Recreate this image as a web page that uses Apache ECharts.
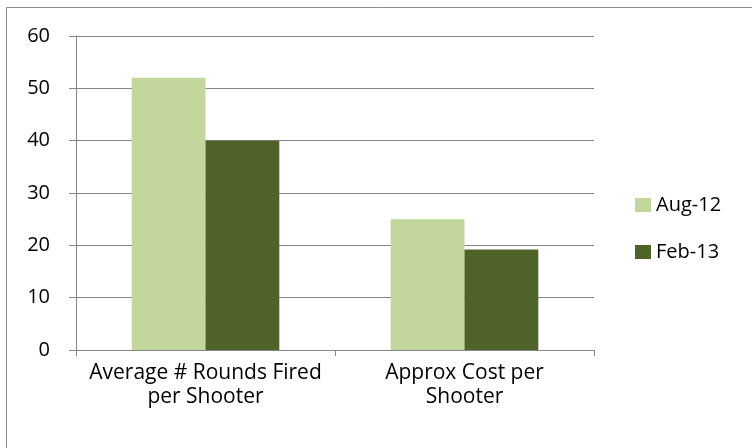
<!DOCTYPE html>
<html>
<head>
<meta charset="utf-8">
<script src="https://cdn.jsdelivr.net/npm/echarts@6/dist/echarts.min.js"></script>
<style>
  html, body { margin: 0; padding: 0; background: #fff; }
  #chart { width: 752px; height: 448px; }
</style>
</head>
<body>
<div id="chart"></div>
<script>
// categories and series
var categories = ['Average # Rounds Fired\nper Shooter', 'Approx Cost per\nShooter'];
var aug12 = [52, 25];
var feb13 = [40, 19.2];
var yTicks = { min: 0, max: 60, interval: 10 };

var myChart = echarts.init(document.getElementById('chart'));
var font = '"Open Sans", sans-serif';

var option = {
    animation: false,
    backgroundColor: '#fff',
    graphic: [{
        type: 'rect',
        shape: { x: 6.5, y: 7.5, width: 760, height: 460 },
        style: { fill: 'none', stroke: '#8c8c8c', lineWidth: 1 },
        silent: true
    }],
    legend: {
        orient: 'vertical',
        left: 630,
        top: 190,
        padding: 5,
        itemWidth: 16,
        itemHeight: 14,
        itemGap: 27,
        icon: 'rect',
        textStyle: { fontFamily: font, fontSize: 20, lineHeight: 20, color: '#000' },
        data: ['Aug-12', 'Feb-13']
    },
    grid: { left: 76, top: 36, right: 158, bottom: 98 },
    xAxis: {
        type: 'category',
        data: categories,
        axisLine: { lineStyle: { color: '#868686' } },
        axisTick: { show: true, length: 6, lineStyle: { color: '#868686' } },
        axisLabel: {
            interval: 0,
            hideOverlap: false,
            fontFamily: font, fontSize: 21, color: '#000', margin: 11, lineHeight: 24
        }
    },
    yAxis: {
        type: 'value',
        min: yTicks.min,
        max: yTicks.max,
        interval: yTicks.interval,
        axisLine: { show: true, lineStyle: { color: '#868686' } },
        axisTick: { show: true, length: 7, lineStyle: { color: '#868686' } },
        axisLabel: { fontFamily: font, fontSize: 20, color: '#000', margin: 26 },
        splitLine: { lineStyle: { color: '#868686' } }
    },
    series: [
        {
            name: 'Aug-12',
            type: 'bar',
            data: aug12,
            barGap: '0%',
            barCategoryGap: '43%',
            itemStyle: { color: '#c3d69b' }
        },
        {
            name: 'Feb-13',
            type: 'bar',
            data: feb13,
            itemStyle: { color: '#4f6228' }
        }
    ]
};

myChart.setOption(option);
</script>
</body>
</html>
